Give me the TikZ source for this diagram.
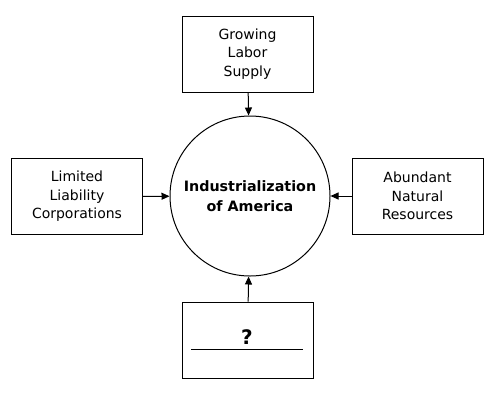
\documentclass[tikz,border=0pt]{standalone}
\usepackage{fontspec}
\setmainfont{DejaVu Sans}
\usetikzlibrary{arrows.meta}
\begin{document}
\begin{tikzpicture}[x=1pt,y=-1pt,
  box/.style={draw, line width=1pt, minimum width=131pt, minimum height=76pt, align=center, font=\fontsize{14}{18.5}\selectfont, inner sep=0pt},
  arr/.style={-{Triangle[length=8pt,width=7pt]}, line width=1pt}]
\useasboundingbox (0,0) rectangle (494,394);
\node[draw, circle, line width=1pt, minimum size=160pt, inner sep=0pt, align=center, font=\bfseries\fontsize{14.3}{20}\selectfont] (c) at (250,196) {Industrialization\\of America};
\node[box] (top) at (247.5,54) {Growing\\Labor\\Supply};
\node[box] (left) at (77,196.5) {Limited\\Liability\\Corporations};
\node[box] (right) at (417.5,196) {Abundant\\Natural\\Resources};
\node[box] (bot) at (247.5,340) {};
\node[font=\bfseries\fontsize{20}{22}\selectfont] (q) at (247,337) {?};
\coordinate (l1) at (191,349);
\coordinate (l2) at (303,349);
\draw[line width=1pt] (l1) -- (l2);
\draw[arr] (top) -- (c);
\draw[arr] (left) -- (c);
\draw[arr] (right) -- (c);
\draw[arr] (bot) -- (c);
\end{tikzpicture}
\end{document}
